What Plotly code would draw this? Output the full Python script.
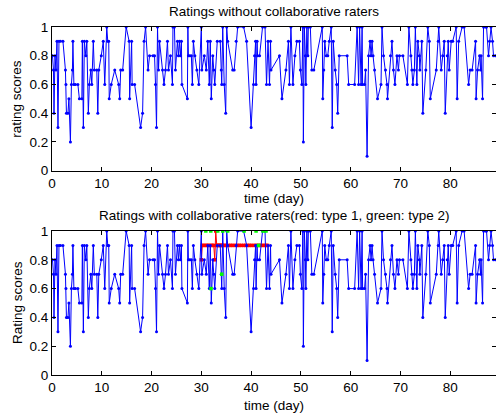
import plotly.graph_objects as go
from plotly.subplots import make_subplots

# ---- data: blue series (time in days, rating) ----
day = [0.1, 0.3, 0.4, 0.6, 0.8, 1.0, 1.2, 1.4, 1.7, 2.2, 2.7, 2.8, 2.9, 3.2, 3.4, 3.7, 3.9, 4.1, 4.2, 4.4,
       4.7, 5.2, 5.5, 6.0, 6.1, 6.3, 6.5, 6.8, 7.0, 7.3, 7.5, 7.8, 8.0, 8.3, 8.5, 9.0, 9.2, 9.4, 9.9, 10.3,
       10.6, 11.0, 11.2, 11.4, 11.5, 11.9, 12.6, 13.4, 13.6, 13.8, 14.2, 14.9, 15.5, 15.6, 16.0, 16.1, 16.6, 17.8, 18.2, 18.5,
       18.8, 19.3, 19.6, 20.3, 20.6, 20.8, 21.0, 21.2, 21.4, 21.6, 22.2, 22.5, 22.8, 23.2, 23.4, 23.8, 24.2, 24.3, 24.6, 24.8,
       25.2, 25.4, 25.6, 25.8, 26.0, 26.1, 27.2, 27.3, 27.4, 27.7, 28.0, 28.2, 28.4, 28.7, 29.1, 29.5, 30.0, 30.1, 30.6, 31.0,
       31.3, 31.6, 31.8, 32.0, 32.3, 32.5, 32.7, 33.2, 33.8, 34.0, 34.1, 34.3, 34.6, 34.9, 35.1, 35.3, 36.3, 36.6, 37.0, 37.3,
       38.5, 39.1, 40.0, 40.5, 40.7, 40.9, 41.0, 41.2, 41.3, 41.7, 42.3, 42.8, 43.1, 43.4, 43.7, 43.9, 44.0, 45.7, 46.2, 47.0,
       47.5, 47.7, 48.0, 48.4, 48.8, 49.2, 49.7, 49.9, 50.2, 50.4, 50.5, 50.7, 50.9, 51.0, 51.2, 51.4, 51.5, 51.9, 52.2, 52.6,
       54.3, 54.4, 54.6, 54.8, 55.1, 55.4, 55.7, 56.1, 56.3, 56.5, 56.9, 57.2, 57.4, 57.7, 59.3, 59.6, 60.8, 61.3, 61.6, 61.8,
       62.1, 62.3, 62.4, 62.8, 63.0, 63.3, 63.6, 63.9, 64.1, 64.3, 64.5, 64.8, 65.4, 66.1, 66.3, 66.6, 67.0, 67.3, 67.4, 68.0,
       68.3, 68.6, 68.9, 69.3, 69.6, 69.8, 70.5, 71.4, 71.7, 72.1, 72.3, 72.5, 72.8, 73.0, 73.3, 73.5, 73.8, 73.9, 74.3, 74.5,
       75.1, 75.5, 75.8, 76.0, 77.2, 77.6, 77.7, 78.2, 78.5, 78.8, 79.0, 79.4, 79.6, 79.8, 80.2, 80.5, 81.2, 81.4, 81.7, 82.4,
       82.8, 83.7, 84.0, 84.4, 85.1, 85.2, 85.5, 85.9, 86.1, 86.2, 86.5, 86.7, 87.1, 87.3, 87.7, 87.9, 88.2, 88.5, 88.7, 89.1]
rating = [0.8, 0.7, 0.4, 0.8, 0.7, 0.9, 0.3, 0.9, 0.9, 0.9, 0.7, 0.6, 0.4, 0.4, 0.5, 0.2, 0.6, 0.7, 0.9, 0.6,
          0.6, 0.6, 0.5, 0.5, 0.9, 0.3, 0.9, 0.8, 0.9, 0.4, 0.6, 0.7, 0.6, 0.9, 0.7, 0.7, 0.4, 0.7, 0.8, 0.9,
          0.6, 1.0, 0.9, 0.9, 0.5, 0.6, 0.7, 0.6, 0.5, 0.7, 0.7, 1.0, 0.9, 0.5, 0.9, 0.6, 0.6, 0.3, 0.4, 0.9,
          1.0, 0.7, 0.8, 0.8, 0.8, 0.6, 0.3, 1.0, 0.7, 0.9, 0.7, 0.6, 0.7, 0.9, 0.7, 0.8, 0.6, 1.0, 1.0, 0.7,
          0.9, 0.8, 0.9, 0.8, 0.9, 0.6, 0.5, 1.0, 0.8, 0.8, 0.8, 0.6, 0.9, 0.8, 0.7, 0.6, 1.0, 0.7, 0.8, 0.7,
          0.9, 0.6, 0.9, 0.5, 0.8, 0.7, 0.6, 0.9, 0.9, 0.7, 0.6, 1.0, 0.6, 0.4, 1.0, 0.9, 0.7, 0.7, 0.9, 1.0,
          1.0, 0.9, 0.3, 0.6, 0.8, 0.9, 0.6, 0.9, 0.8, 0.8, 1.0, 1.0, 0.6, 0.9, 0.6, 0.9, 0.7, 0.8, 0.5, 0.7,
          0.9, 0.6, 1.0, 0.6, 0.8, 0.9, 0.9, 0.7, 0.6, 1.0, 0.2, 1.0, 0.8, 0.6, 1.0, 0.8, 1.0, 1.0, 0.7, 0.7,
          1.0, 0.5, 0.7, 0.9, 0.8, 0.8, 0.9, 1.0, 0.3, 0.9, 0.7, 0.6, 0.4, 0.8, 0.8, 0.6, 0.6, 1.0, 0.6, 1.0,
          0.6, 1.0, 0.6, 0.6, 0.7, 0.1, 0.8, 0.9, 0.8, 0.9, 0.8, 0.7, 0.5, 0.6, 1.0, 0.8, 0.7, 0.6, 0.5, 0.8,
          0.9, 0.7, 0.6, 0.8, 0.7, 0.8, 0.8, 0.6, 1.0, 0.8, 0.7, 0.6, 0.7, 1.0, 0.6, 0.9, 0.8, 0.7, 0.9, 0.4,
          0.7, 1.0, 0.9, 0.5, 0.7, 0.9, 1.0, 0.7, 0.8, 0.9, 0.4, 0.8, 0.9, 0.7, 0.9, 0.9, 1.0, 0.5, 0.9, 1.0,
          1.0, 0.6, 0.7, 0.7, 0.9, 0.5, 0.7, 0.8, 0.7, 0.8, 0.5, 1.0, 1.0, 1.0, 0.8, 0.9, 1.0, 0.9, 0.8, 0.8]

# ---- collaborative raters type 1 (red) ----
red_day = [30.0, 30.2, 30.5, 30.9, 31.2, 31.5, 31.9, 32.2, 32.5, 32.7, 32.9, 33.1, 33.3, 33.5, 33.7, 33.9, 34.1, 34.3,
           34.6, 35.0, 35.5, 35.9, 36.3, 36.8, 37.2, 37.6, 38.0, 38.5, 38.9, 39.3, 39.7, 40.1, 40.6, 41.0, 41.4, 41.8,
           42.2, 42.6, 43.0, 43.3]
red_rating = [0.8, 0.9, 0.9, 0.9, 0.9, 0.9, 0.9, 0.9, 0.9, 0.8, 1.0, 0.9, 0.9, 0.9, 0.9, 0.9, 0.9, 0.9,
              0.9, 0.9, 0.9, 0.9, 0.9, 0.9, 0.9, 0.9, 0.9, 0.9, 0.9, 0.9, 0.9, 0.9, 0.9, 0.9, 0.9, 0.9,
              0.9, 0.9, 0.9, 0.9]

# ---- collaborative raters type 2 (green) ----
green_day = [30.9, 31.9, 31.95, 33.3, 34.1, 34.3, 35.3, 38.6, 41.0, 41.5, 42.4, 43.0]
green_rating = [1.0, 1.0, 0.6, 1.0, 0.7, 1.0, 1.0, 1.0, 1.0, 0.9, 1.0, 1.0]

x_ticks = [0, 10, 20, 30, 40, 50, 60, 70, 80]
y_ticks = [0, 0.2, 0.4, 0.6, 0.8, 1]

W, H = 496, 417
ML, MR, MT, MB = 52, 0, 27, 42
PW, PH = W - ML - MR, H - MT - MB
def py(p):
    return (H - MB - p) / PH
def px(p):
    return (p - ML) / PW

FONT = "Liberation Sans, Arial, Helvetica, sans-serif"
FS = 13.5

fig = make_subplots(rows=2, cols=1)

blue_style = dict(mode="lines+markers", line=dict(color="#0000ff", width=1),
                  marker=dict(color="#0000ff", size=3), showlegend=False)
fig.add_trace(go.Scatter(x=day, y=rating, **blue_style), row=1, col=1)
fig.add_trace(go.Scatter(x=red_day, y=red_rating, mode="lines+markers",
                         line=dict(color="#ff0000", width=1),
                         marker=dict(color="#ff0000", size=3.5, symbol="square"),
                         showlegend=False), row=2, col=1)
fig.add_trace(go.Scatter(x=day, y=rating, **blue_style), row=2, col=1)
fig.add_trace(go.Scatter(x=green_day, y=green_rating, mode="markers",
                         marker=dict(color="#00ff00", size=3.5, symbol="square"),
                         showlegend=False), row=2, col=1)

axis_common = dict(showline=True, linecolor="black", linewidth=1, mirror="ticks",
                   ticks="inside", ticklen=4, tickcolor="black", showgrid=False, zeroline=False,
                   tickfont=dict(family=FONT, size=FS, color="black"))

fig.update_xaxes(range=[0, 89.2], tickvals=x_ticks, **axis_common)
fig.update_yaxes(range=[0, 1], tickvals=y_ticks, **axis_common)
fig.update_layout(
    xaxis=dict(domain=[0, 1]), xaxis2=dict(domain=[0, 1]),
    yaxis=dict(domain=[py(170.7), 1]), yaxis2=dict(domain=[0, py(231)]),
)

ann = [
    dict(text="Ratings without collaborative raters", x=0.5, y=py(11.5)),
    dict(text="time (day)", x=0.5, y=py(199)),
    dict(text="Ratings with collaborative raters(red: type 1, green: type 2)", x=0.5, y=py(215.5)),
    dict(text="time (day)", x=0.5, y=py(405)),
    dict(text="rating scores", x=px(17), y=py(98.7), textangle=-90),
    dict(text="Rating scores", x=px(17), y=py(303), textangle=-90),
]
annotations = []
for a in ann:
    d = dict(xref="paper", yref="paper", showarrow=False, xanchor="center", yanchor="middle",
             font=dict(family=FONT, size=FS, color="black"))
    d.update(a)
    annotations.append(d)

fig.update_layout(
    width=W, height=H,
    margin=dict(l=ML, r=MR, t=MT, b=MB, pad=0),
    paper_bgcolor="white", plot_bgcolor="white",
    font=dict(family=FONT, size=FS, color="black"),
    annotations=annotations,
    showlegend=False,
)

fig.write_html("out.html", include_plotlyjs=True, config={"displayModeBar": False})
